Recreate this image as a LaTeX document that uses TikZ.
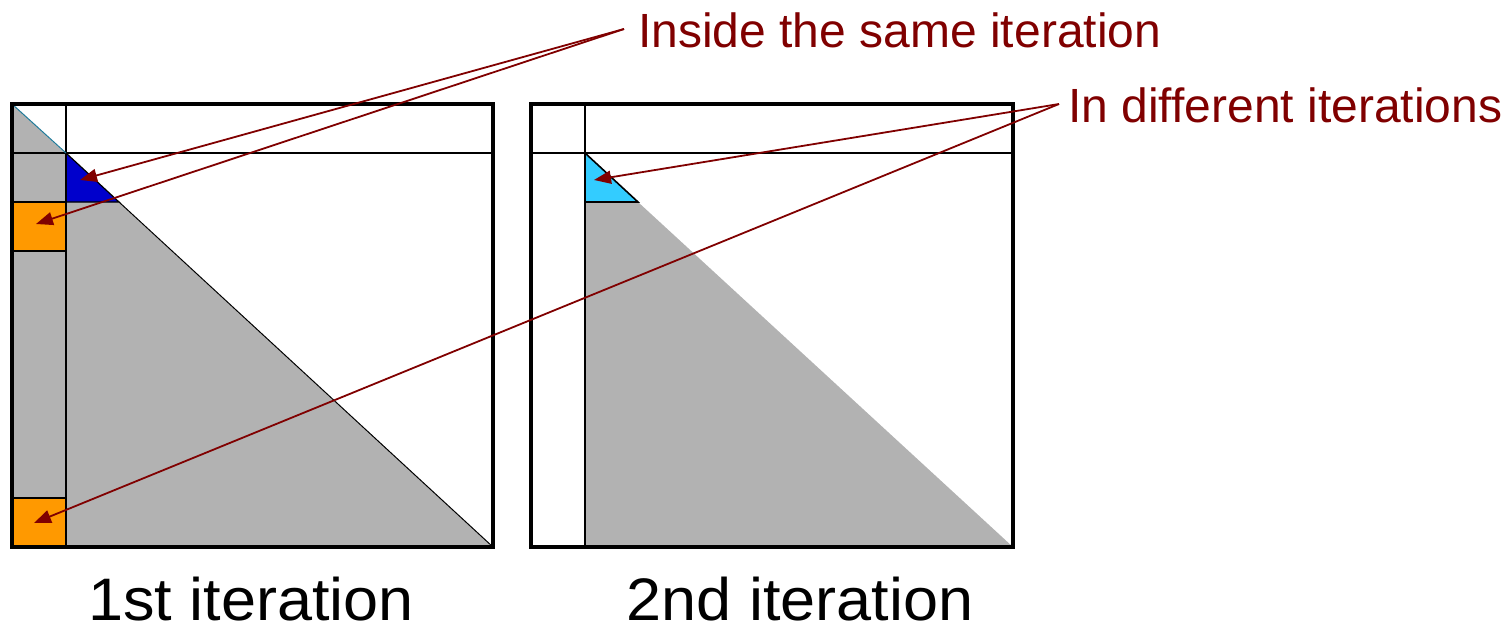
\documentclass[tikz,border=0pt]{standalone}
\usepackage{fontspec}
\setmainfont{Liberation Sans}
\usetikzlibrary{arrows.meta}
\definecolor{dred}{RGB}{128,0,0}
\definecolor{cellgray}{RGB}{178,178,178}
\definecolor{dblue}{RGB}{0,0,204}
\definecolor{lblue}{RGB}{51,204,255}
\definecolor{orng}{RGB}{255,153,0}
\begin{document}
\begin{tikzpicture}[x=1pt,y=-1pt,
  frame/.style={draw=black,line width=3.5pt},
  grid/.style={draw=black,line width=1.6pt},
  diag/.style={draw=black,line width=1pt},
  cell/.style={draw=black,line width=1.2pt,fill=orng,minimum width=54pt,minimum height=49pt,inner sep=0pt},
  arr/.style={draw=dred,line width=1.8pt,-{Triangle[length=17pt,width=13pt]}},
  toplabel/.style={text=dred,font=\fontsize{48}{57}\selectfont,inner sep=0pt,anchor=base west},
  botlabel/.style={text=black,font=\fontsize{60}{70}\selectfont,inner sep=0pt,anchor=base,xscale=1.05}]
\useasboundingbox (0,0) rectangle (1508,625);
% ---- left panel ----
\fill[cellgray] (12,104) -- (493,547) -- (12,547) -- cycle;
\fill[dblue] (66,153) -- (119,202) -- (66,202) -- cycle;
\draw[line width=1.2pt] (66,153) -- (119,202) -- (66,202) -- cycle;
\node[cell] (o1) at (39,226.5) {};
\node[cell] (o2) at (39,522.5) {};
\draw[grid] (12,153) -- (493,153);
\draw[grid] (66,104) -- (66,547);
\draw[grid] (12,202) -- (66,202);
\draw[grid] (12,251) -- (66,251);
\draw[grid] (12,498) -- (66,498);
\draw[draw=lblue!60!black,line width=1pt] (12,104) -- (66,153);
\draw[diag] (119,202) -- (493,547);
\draw[frame] (12,104) rectangle (493,547);
% ---- right panel ----
\fill[cellgray] (585,202) -- (638,202) -- (1013,547) -- (585,547) -- cycle;
\fill[lblue] (585,153) -- (638,202) -- (585,202) -- cycle;
\draw[line width=1.6pt] (585,153) -- (638,202) -- (585,202) -- cycle;
\draw[grid] (531,153) -- (1013,153);
\draw[grid] (585,104) -- (585,547);
\draw[frame] (531,104) rectangle (1013,547);
% ---- labels ----
\node[toplabel] (same) at (638,47) {Inside the same iteration};
\node[toplabel] (diff) at (1068,122) {In different iterations};
\node[botlabel] (it1) at (251,620) {1st iteration};
\node[botlabel] (it2) at (800,620) {2nd iteration};
% ---- arrows ----
\coordinate (s1) at (624,29);
\coordinate (s2) at (1059,104);
\coordinate (t1) at (80,180);
\coordinate (t2) at (36,224);
\coordinate (t3) at (594,180);
\coordinate (t4) at (34,523);
\draw[arr] (s1) -- (t1);
\draw[arr] (s1) -- (t2);
\draw[arr] (s2) -- (t3);
\draw[arr] (s2) -- (t4);
\end{tikzpicture}
\end{document}
